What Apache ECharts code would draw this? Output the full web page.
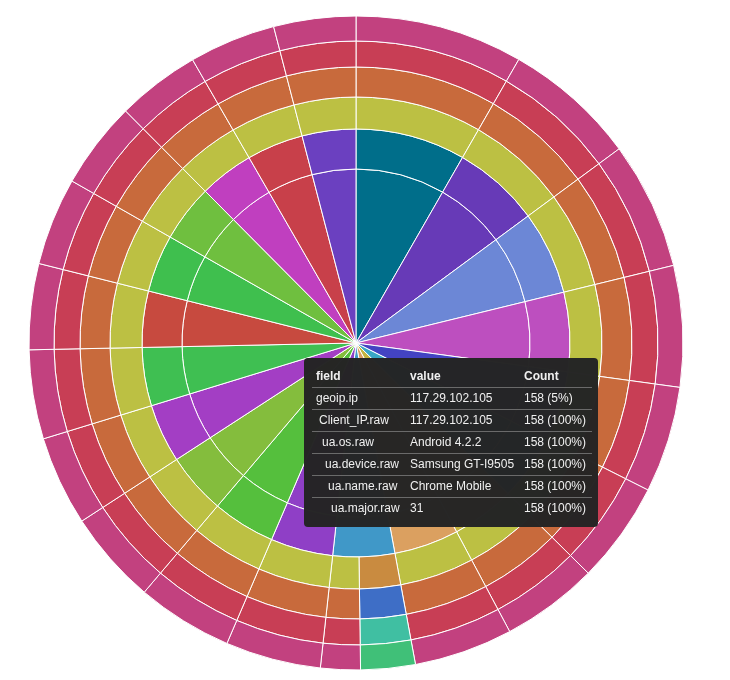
<!DOCTYPE html>
<html>
<head>
<meta charset="utf-8">
<script src="https://cdn.jsdelivr.net/npm/echarts@6/dist/echarts.min.js"></script>
<style>
  html, body { margin: 0; padding: 0; background: #ffffff; }
  #chart { width: 730px; height: 680px; }
</style>
</head>
<body>
<div id="chart"></div>
<script>
// ---- Data ----
// 20 geoip.ip buckets, clockwise from 12 o'clock
const ipNames = [
  'IP 01', 'IP 02', 'IP 03', 'IP 04', 'IP 05', '117.29.102.105', 'IP 07', 'IP 08', 'IP 09', 'IP 10',
  'IP 11', 'IP 12', 'IP 13', 'IP 14', 'IP 15', 'IP 16', 'IP 17', 'IP 18', 'IP 19', 'IP 20'
];
const ipCounts = [262, 208, 199, 189, 166, 158, 151, 154, 147, 149, 150, 146, 140, 139, 134, 137, 136, 130, 135, 128];
const ipColors = [
  '#006e8a', '#673ab7', '#6c87d6', '#bd4fbf', '#4343c2', '#3aa6c4', '#c4b440', '#dba060', '#4098c8', '#8f3fc6',
  '#55bf3d', '#84bd3d', '#a33ec4', '#3fbf52', '#c74a3f', '#3fbf4e', '#6fbf3f', '#c03fbf', '#c8404a', '#6b40c0'
];
// bucket 9 splits into two ua.os.raw values (clockwise order)
const splitIndex = 8;
const splitCounts = [85, 62];
const fields = ['geoip.ip', 'Client_IP.raw', 'ua.os.raw', 'ua.device.raw', 'ua.name.raw', 'ua.major.raw'];
const outerColors = ['#bcc043', '#c86a3c', '#c83e55', '#c2417f'];      // levels 3..6 (common values)
const outerAltColors = ['#c98b40', '#3e6ec6', '#40bfa2', '#40c078'];   // levels 3..6 (other value)
const ringRadii = [[0, 174], [174, 214], [214, 246], [246, 276], [276, 302], [302, 327]];

// tooltip table
const tipFields = ['geoip.ip', 'Client_IP.raw', 'ua.os.raw', 'ua.device.raw', 'ua.name.raw', 'ua.major.raw'];
const tipValues = ['117.29.102.105', '117.29.102.105', 'Android 4.2.2', 'Samsung GT-I9505', 'Chrome Mobile', '31'];
const tipCounts = ['158 (5%)', '158 (100%)', '158 (100%)', '158 (100%)', '158 (100%)', '158 (100%)'];

// ---- Build tree ----
function chain(depthIdx, value, colors, label) {
  const node = { name: label + ' ' + fields[depthIdx + 2], value: value, itemStyle: { color: colors[depthIdx] } };
  if (depthIdx < 3) node.children = [chain(depthIdx + 1, value, colors, label)];
  return node;
}
const treeData = ipNames.map((name, i) => {
  const v = ipCounts[i];
  let osChildren;
  if (i === splitIndex) {
    osChildren = [chain(0, splitCounts[0], outerAltColors, name + ' a'), chain(0, splitCounts[1], outerColors, name + ' b')];
  } else {
    osChildren = [chain(0, v, outerColors, name)];
  }
  return {
    name: name, value: v, itemStyle: { color: ipColors[i] },
    children: [{ name: name + ' ', value: v, itemStyle: { color: ipColors[i] }, children: osChildren }]
  };
});

function tipHtml() {
  const cell = 'padding:0 0 0 4px;height:21px;line-height:21px;text-align:left;white-space:nowrap;';
  let h = '<div style="width:294px;height:169px;box-sizing:border-box;padding:7px 6px 0 8px;' +
          'font:12px \'Liberation Sans\',Arial,sans-serif;color:#f0f0f0;">' +
          '<table style="border-collapse:collapse;width:280px;table-layout:fixed;">' +
          '<colgroup><col style="width:94px"><col style="width:114px"><col style="width:72px"></colgroup>' +
          '<tr><th style="' + cell + 'height:22px;font-weight:bold;">field</th>' +
          '<th style="' + cell + 'height:22px;font-weight:bold;">value</th>' +
          '<th style="' + cell + 'height:22px;font-weight:bold;">Count</th></tr>';
  for (let i = 0; i < tipFields.length; i++) {
    h += '<tr style="border-top:1px solid #6a6a6a;">' +
         '<td style="' + cell + 'padding-left:' + (4 + 3 * i) + 'px;">' + tipFields[i] + '</td>' +
         '<td style="' + cell + '">' + tipValues[i] + '</td>' +
         '<td style="' + cell + '">' + tipCounts[i] + '</td></tr>';
  }
  h += '</table></div>';
  return h;
}

const levels = [{}].concat(ringRadii.map(r => ({ r0: r[0], r: r[1] })));

const chart = echarts.init(document.getElementById('chart'), null, { renderer: 'canvas' });
chart.setOption({
  animation: false,
  tooltip: {
    trigger: 'item',
    triggerOn: 'none',
    alwaysShowContent: true,
    position: [304, 358],
    showDelay: 0,
    hideDelay: 0,
    transitionDuration: 0,
    padding: 0,
    borderWidth: 0,
    backgroundColor: 'rgba(36,36,36,0.99)',
    extraCssText: 'box-shadow:none;border-radius:4px;',
    formatter: function () { return tipHtml(); }
  },
  series: [{
    type: 'sunburst',
    center: [356, 343],
    startAngle: 90,
    sort: null,
    nodeClick: false,
    data: treeData,
    levels: levels,
    label: { show: false },
    itemStyle: { borderWidth: 1, borderColor: '#ffffff' },
    emphasis: { focus: 'none' }
  }]
});
chart.dispatchAction({ type: 'showTip', seriesIndex: 0, dataIndex: 3 });
</script>
</body>
</html>
